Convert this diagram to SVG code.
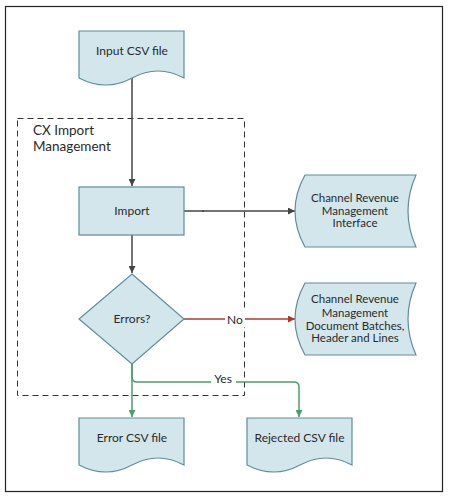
<svg xmlns="http://www.w3.org/2000/svg" width="451" height="499" viewBox="0 0 451 499">
<style>
.node{fill:#d3e6ec;stroke:#5e8e9e;stroke-width:1.2}
.lbl{font-family:Lato,"Open Sans",sans-serif;font-size:12px;fill:#2a2a2a;text-anchor:middle}
.sm{font-size:11.5px}
.grey{stroke:#444;stroke-width:1.5;fill:none}
.red{stroke:#a83a2c;stroke-width:1.5;fill:none}
.green{stroke:#4e9d6c;stroke-width:1.5;fill:none}
</style>
<defs>
<marker id="aG" viewBox="0 0 10 10" refX="10" refY="5" markerWidth="7" markerHeight="7" markerUnits="userSpaceOnUse" orient="auto"><path d="M0,0 L10,5 L0,10 z" fill="#444"/></marker>
<marker id="aR" viewBox="0 0 10 10" refX="10" refY="5" markerWidth="7" markerHeight="7" markerUnits="userSpaceOnUse" orient="auto"><path d="M0,0 L10,5 L0,10 z" fill="#a83a2c"/></marker>
<marker id="aN" viewBox="0 0 10 10" refX="10" refY="5" markerWidth="7" markerHeight="7" markerUnits="userSpaceOnUse" orient="auto"><path d="M0,0 L10,5 L0,10 z" fill="#4e9d6c"/></marker>
</defs>
<rect x="0" y="0" width="451" height="499" fill="#fff"/>
<rect x="5.5" y="6.5" width="437" height="485" fill="none" stroke="#222" stroke-width="1.2"/>
<g id="group-cx">
<rect x="17.5" y="118.5" width="227" height="277" fill="none" stroke="#333" stroke-width="1" stroke-dasharray="6,4"/>
<text x="33" y="135" font-family="Lato,'Open Sans',sans-serif" font-size="13.5" fill="#2a2a2a">CX Import</text>
<text x="33" y="151" font-family="Lato,'Open Sans',sans-serif" font-size="13.5" fill="#2a2a2a">Management</text>
</g>
<g id="connectors">
<path class="grey" d="M132,78 V186" marker-end="url(#aG)"/>
<path class="grey" d="M132,235 V273" marker-end="url(#aG)"/>
<path class="grey" d="M184,211 H295" marker-end="url(#aG)"/>
<circle cx="203" cy="211" r="1" fill="#444"/>
<path class="red" d="M184,319 H295" marker-end="url(#aR)"/>
<path class="green" d="M132,364 V417" marker-end="url(#aN)"/>
<path class="green" d="M132,364 V377 Q132,382 137,382 H294 Q299,382 299,387 V417" marker-end="url(#aN)"/>
<rect x="225" y="311" width="20" height="16" fill="#fff"/>
<text class="lbl" x="235" y="323.5" font-size="13">No</text>
<rect x="211" y="370" width="25" height="14" fill="#fff"/>
<text class="lbl" x="223" y="383" font-size="13">Yes</text>
</g>
<g id="input-csv">
<path class="node" d="M79,31 H184 V78 Q158,64 132,78 Q106,92 79,78 Z"/>
<text class="lbl" x="132" y="55">Input CSV file</text>
</g>
<g id="import">
<rect class="node" x="79" y="187" width="105" height="48"/>
<text class="lbl" x="132" y="215">Import</text>
</g>
<g id="errors">
<path class="node" d="M132,274 L184,319 L132,364 L79,319 Z"/>
<text class="lbl" x="132" y="323">Errors?</text>
</g>
<g id="crm-interface">
<path class="node" d="M305,175 H416 Q400,211 416,247 H305 Q285,211 305,175 Z"/>
<text class="lbl sm" x="355" y="201.5">Channel Revenue</text>
<text class="lbl sm" x="355" y="214.5">Management</text>
<text class="lbl sm" x="355" y="227">Interface</text>
</g>
<g id="crm-batches">
<path class="node" d="M305,283 H416 Q400,319 416,355 H305 Q285,319 305,283 Z"/>
<text class="lbl sm" x="355" y="303">Channel Revenue</text>
<text class="lbl sm" x="355" y="316.5">Management</text>
<text class="lbl sm" x="355" y="329.5">Document Batches,</text>
<text class="lbl sm" x="355" y="342">Header and Lines</text>
</g>
<g id="error-csv">
<path class="node" d="M79,418 H184 V465 Q158,451 132,465 Q106,479 79,465 Z"/>
<text class="lbl" x="132" y="441.5">Error CSV file</text>
</g>
<g id="rejected-csv">
<path class="node" d="M247,418 H352 V465 Q326,451 300,465 Q274,479 247,465 Z"/>
<text class="lbl" x="299.5" y="441.5">Rejected CSV file</text>
</g>
</svg>
